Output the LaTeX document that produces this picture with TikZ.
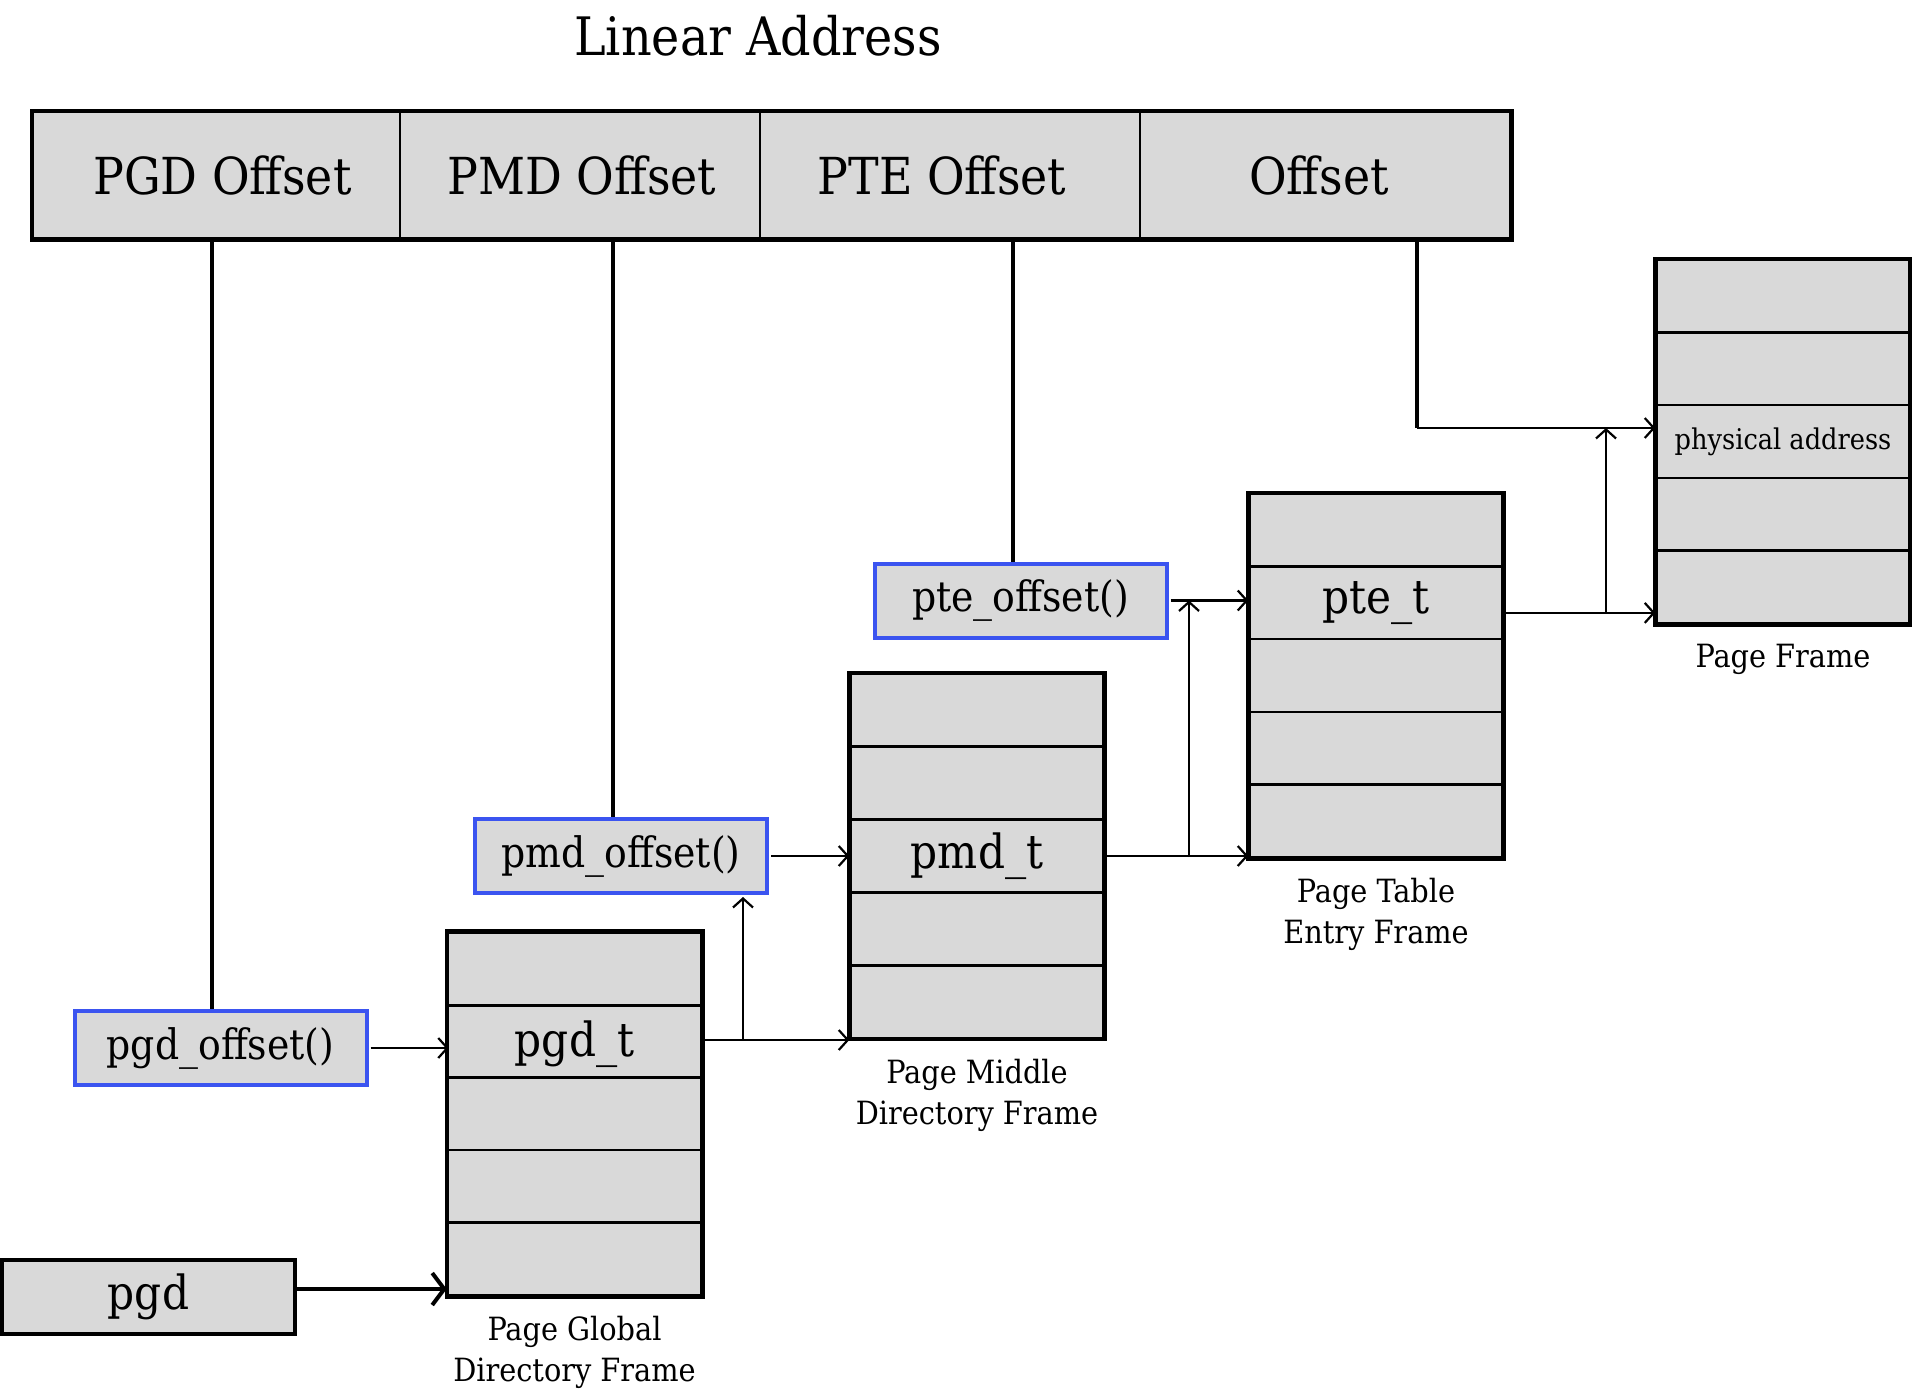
\documentclass[tikz,border=0pt]{standalone}
\usepackage{fontspec}
\setmainfont{DejaVu Serif Condensed}
\usetikzlibrary{arrows.meta,calc}
\definecolor{gfill}{RGB}{217,217,217}
\definecolor{bblue}{RGB}{59,84,240}
\begin{document}
\begin{tikzpicture}[x=1pt,y=-1pt,
  cell/.style={draw=black,line width=2.5pt,fill=gfill,inner sep=0pt},
  celltext/.style={inner sep=0pt,font=\fontsize{51}{58}\selectfont},
  row/.style={draw=black,line width=2.5pt,fill=gfill,inner sep=0pt,minimum width=253pt,minimum height=72.6pt},
  rowtext/.style={inner sep=0pt,font=\fontsize{47}{54}\selectfont},
  fbox/.style={draw=bblue,line width=4pt,fill=gfill,inner sep=0pt,minimum width=292pt,minimum height=74pt,font=\fontsize{42}{48}\selectfont},
  lbl/.style={align=center,anchor=north,inner sep=0pt,font=\fontsize{32}{41}\selectfont},
  vline/.style={line width=4pt},
  arr/.style={line width=2.2pt,-{Straight Barb[length=9pt,width=20pt,line width=2.2pt]}},
  bigarr/.style={line width=4pt,-{Straight Barb[length=12pt,width=32pt,line width=4pt]}}]
\useasboundingbox (0,0) rectangle (1912,1389);

% title
\node[font=\fontsize{53}{60}\selectfont,inner sep=0pt] (title) at (758,36) {Linear Address};

% linear address bar
\node[cell,minimum width=367pt,minimum height=126pt] (c1) at (216.5,175) {};
\node[cell,minimum width=360pt,minimum height=126pt] (c2) at (580,175) {};
\node[cell,minimum width=380pt,minimum height=126pt] (c3) at (950,175) {};
\node[cell,minimum width=370pt,minimum height=126pt] (c4) at (1325,175) {};
\node[celltext] at ([xshift=6pt]c1) {PGD Offset};
\node[celltext] at ([xshift=2pt]c2) {PMD Offset};
\node[celltext] at ([xshift=-8pt]c3) {PTE Offset};
\node[celltext] at ([xshift=-6pt]c4) {Offset};
\draw[line width=4.5pt] (c1.north west) rectangle (c4.south east);

% frames
\foreach \i in {1,...,5} {
  \node[row] (g\i) at (574.5,{933+72.4*(\i-0.5)}) {};
  \node[row] (m\i) at (977,{674+72.8*(\i-0.5)}) {};
  \node[row] (t\i) at (1376,{494+72.6*(\i-0.5)}) {};
  \node[row] (p\i) at (1783,{260+72.6*(\i-0.5)}) {};
}
\draw[line width=4.5pt] (g1.north west) rectangle (g5.south east);
\draw[line width=4.5pt] (m1.north west) rectangle (m5.south east);
\draw[line width=4.5pt] (t1.north west) rectangle (t5.south east);
\draw[line width=4.5pt] (p1.north west) rectangle (p5.south east);
\node[rowtext] (gt) at ([yshift=-3pt]g2) {pgd\_t};
\node[rowtext] (mt) at (m3) {pmd\_t};
\node[rowtext] (tt) at (t2) {pte\_t};
\node[inner sep=0pt,font=\fontsize{28.5}{34}\selectfont] (pa) at (p3) {physical address};

% frame labels
\node[lbl] (gl) at ([yshift=-20pt]g5.south) {Page Global\\Directory Frame};
\node[lbl] (ml) at ([yshift=-20pt]m5.south) {Page Middle\\Directory Frame};
\node[lbl] (tl) at ([yshift=-20pt]t5.south) {Page Table\\Entry Frame};
\node[lbl] (pl) at ([yshift=-20pt]p5.south) {Page Frame};

% function boxes
\node[fbox] (pgdo) at (220.5,1048) {pgd\_offset()};
\node[fbox] (pmdo) at (621,856) {pmd\_offset()};
\node[fbox] (pteo) at (1020.5,600.5) {pte\_offset()};
\node[draw=black,line width=4pt,fill=gfill,inner sep=0pt,minimum width=293pt,minimum height=74pt,font=\fontsize{47}{54}\selectfont] (pgd) at (148.5,1297) {pgd};

% vertical lines from the bar
\draw[vline] ([xshift=-4.5pt]c1.south) -- ([xshift=-4.5pt]c1.south |- pgdo.north);
\draw[vline] ([xshift=-8pt]pmdo.north |- c2.south) -- ([xshift=-8pt]pmdo.north);
\draw[vline] ([xshift=-8pt]pteo.north |- c3.south) -- ([xshift=-8pt]pteo.north);
\coordinate (oc) at (1417,428);
\draw[vline] (oc |- c4.south) -- (oc);
\draw[arr] (oc) -- (oc -| p3.west);

% arrows
\draw[bigarr] ([yshift=8pt]pgd.east) -- ([yshift=8pt]pgd.east -| g5.west);
\draw[arr] ([xshift=2pt]pgdo.east) -- ([xshift=2pt]pgdo.east -| g2.west);
\draw[arr] (g2.east |- 0,1040) -- (m5.west |- 0,1040);
\coordinate (b1) at (743,1040);
\draw[arr] (b1) -- ([yshift=-2pt]b1 |- pmdo.south);
\draw[arr] ([xshift=2pt]pmdo.east) -- (pmdo.east -| m3.west);
\draw[arr] (m3.east) -- (m3.east -| t5.west);
\coordinate (b2) at (1189,857);
\draw[arr] (b2) -- (b2 |- pteo.east);
\draw[arr] ([xshift=2pt]pteo.east) -- (pteo.east -| t2.west);
\draw[arr] ([yshift=-10pt]t2.east) -- ([yshift=-10pt]t2.east -| p5.west);
\coordinate (b3) at (1606,613);
\draw[arr] (b3) -- (b3 |- oc);
\end{tikzpicture}
\end{document}
